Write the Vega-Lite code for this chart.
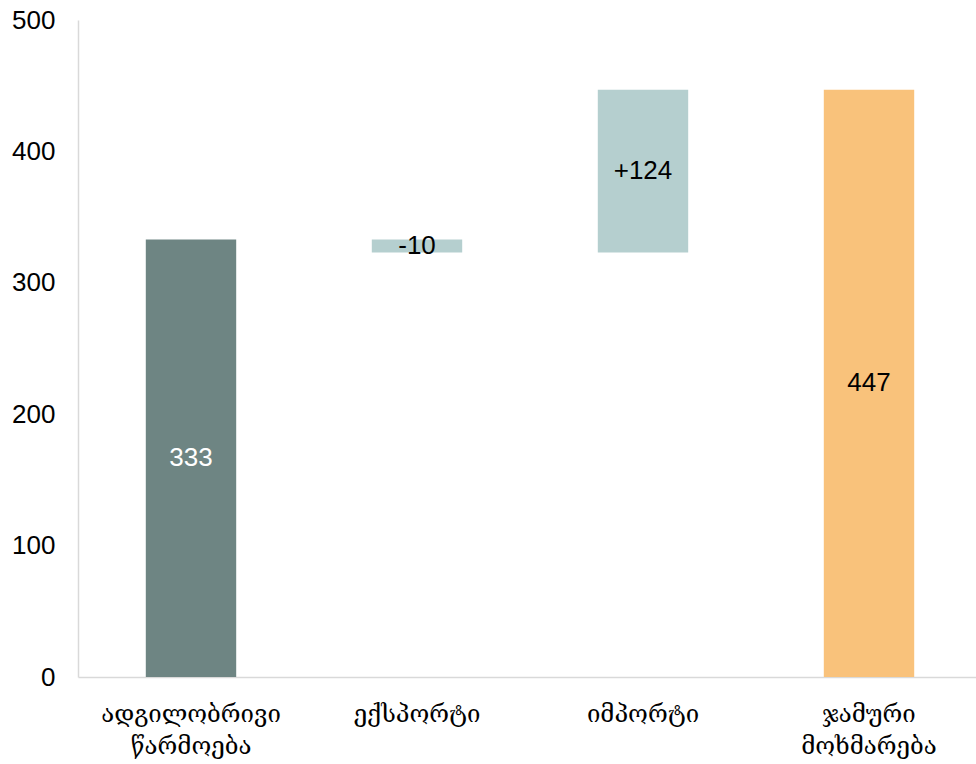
{
  "$schema": "https://vega.github.io/schema/vega-lite/v6.json",
  "width": 898,
  "height": 657,
  "autosize": {"type": "none"},
  "padding": {"left": 78, "top": 20, "right": 0, "bottom": 87},
  "background": "white",
  "config": {"view": {"stroke": null}},
  "data": {
    "values": [
      {"cat": "ადგილობრივი\nწარმოება", "start": 0, "end": 333, "label": "333", "kind": "production"},
      {"cat": "ექსპორტი", "start": 333, "end": 323, "label": "-10", "kind": "flow"},
      {"cat": "იმპორტი", "start": 323, "end": 447, "label": "+124", "kind": "flow"},
      {"cat": "ჯამური\nმოხმარება", "start": 0, "end": 447, "label": "447", "kind": "total"}
    ]
  },
  "transform": [{"calculate": "(datum.start + datum.end) / 2", "as": "mid"}],
  "encoding": {
    "x": {
      "field": "cat",
      "type": "nominal",
      "sort": null,
      "scale": {"paddingInner": 0.6, "paddingOuter": 0.3, "range": [0, 904]},
      "axis": {
        "title": null,
        "labelAngle": 0,
        "labelExpr": "split(datum.label, '\\n')",
        "labelFont": "DejaVu Serif",
        "labelFontSize": 24,
        "labelLineHeight": 32,
        "labelColor": "#000000",
        "labelPadding": 25,
        "ticks": false,
        "domainColor": "#d9d9d9",
        "domainWidth": 1.5
      }
    }
  },
  "layer": [
    {
      "mark": {"type": "bar"},
      "encoding": {
        "y": {
          "field": "start",
          "type": "quantitative",
          "scale": {"domain": [0, 500], "nice": false},
          "axis": {
            "title": null,
            "values": [0, 100, 200, 300, 400, 500],
            "grid": false,
            "ticks": false,
            "labelFont": "Liberation Sans",
            "labelFontSize": 26,
            "labelColor": "#000000",
            "labelPadding": 23,
            "domainColor": "#d9d9d9",
            "domainWidth": 1.5
          }
        },
        "y2": {"field": "end"},
        "color": {
          "field": "kind",
          "type": "nominal",
          "scale": {"domain": ["production", "flow", "total"], "range": ["#6e8583", "#b5cfcf", "#f9c27b"]},
          "legend": null
        }
      }
    },
    {
      "mark": {"type": "text", "font": "Liberation Sans", "fontSize": 26, "baseline": "middle", "align": "center"},
      "encoding": {
        "y": {"field": "mid", "type": "quantitative"},
        "text": {"field": "label"},
        "color": {
          "condition": {"test": "datum.kind === 'production'", "value": "#ffffff"},
          "value": "#000000"
        }
      }
    }
  ]
}
